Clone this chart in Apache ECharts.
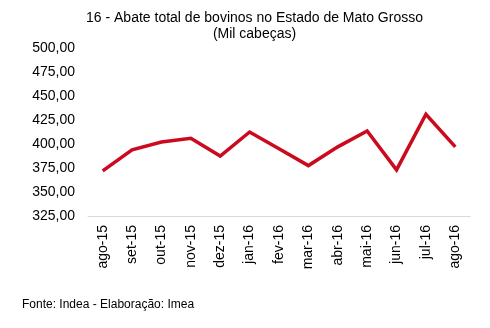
<!DOCTYPE html>
<html>
<head>
<meta charset="utf-8">
<script src="https://cdn.jsdelivr.net/npm/echarts@6/dist/echarts.min.js"></script>
<style>html,body{margin:0;padding:0;background:#fff}#c{width:490px;height:328px}</style>
</head>
<body>
<div id="c"></div>
<script>
const categories = ['ago-15','set-15','out-15','nov-15','dez-15','jan-16','fev-16','mar-16','abr-16','mai-16','jun-16','jul-16','ago-16'];
const abate = [372, 394, 402, 406, 387.5, 412.5, 395, 377.5, 397, 413.5, 373, 431, 397];
const yTicks = {min: 325, max: 500, interval: 25};
const titleText = '16 - Abate total de bovinos no Estado de Mato Grosso';
const subText = '(Mil cabeças)';
const footer = 'Fonte: Indea - Elaboração: Imea';

const chart = echarts.init(document.getElementById('c'), null, {renderer: 'canvas'});
chart.setOption({
  animation: false,
  textStyle: {fontFamily: 'Liberation Sans, Arial, sans-serif'},
  graphic: [
    {type: 'text', x: 254.5, y: 11, style: {text: titleText, align: 'center', verticalAlign: 'top', font: '14px "Liberation Sans", Arial, sans-serif', fill: '#000'}},
    {type: 'text', x: 254.5, y: 27, style: {text: subText, align: 'center', verticalAlign: 'top', font: '14px "Liberation Sans", Arial, sans-serif', fill: '#000'}},
    {type: 'text', x: 22, y: 299, style: {text: footer, verticalAlign: 'top', font: '12px "Liberation Sans", Arial, sans-serif', fill: '#000'}}
  ],
  grid: {left: 88, right: 20, top: 48, bottom: 112, containLabel: false},
  xAxis: {
    type: 'category',
    data: categories,
    boundaryGap: true,
    axisLine: {lineStyle: {color: '#d9d9d9', width: 1}},
    axisTick: {show: false},
    axisLabel: {rotate: 90, color: '#000', fontSize: 14, margin: 9, fontFamily: 'Liberation Sans, Arial, sans-serif'}
  },
  yAxis: {
    type: 'value',
    min: yTicks.min, max: yTicks.max, interval: yTicks.interval,
    axisLine: {show: false},
    axisTick: {show: false},
    splitLine: {show: false},
    axisLabel: {
      color: '#000', fontSize: 14, margin: 13, fontFamily: 'Liberation Sans, Arial, sans-serif',
      formatter: v => v.toFixed(2).replace('.', ',')
    }
  },
  series: [{
    type: 'line',
    data: abate,
    symbol: 'none',
    lineStyle: {color: '#cc0a1e', width: 3.5, join: 'miter'},
    itemStyle: {color: '#cc0a1e'}
  }]
});
</script>
</body>
</html>
